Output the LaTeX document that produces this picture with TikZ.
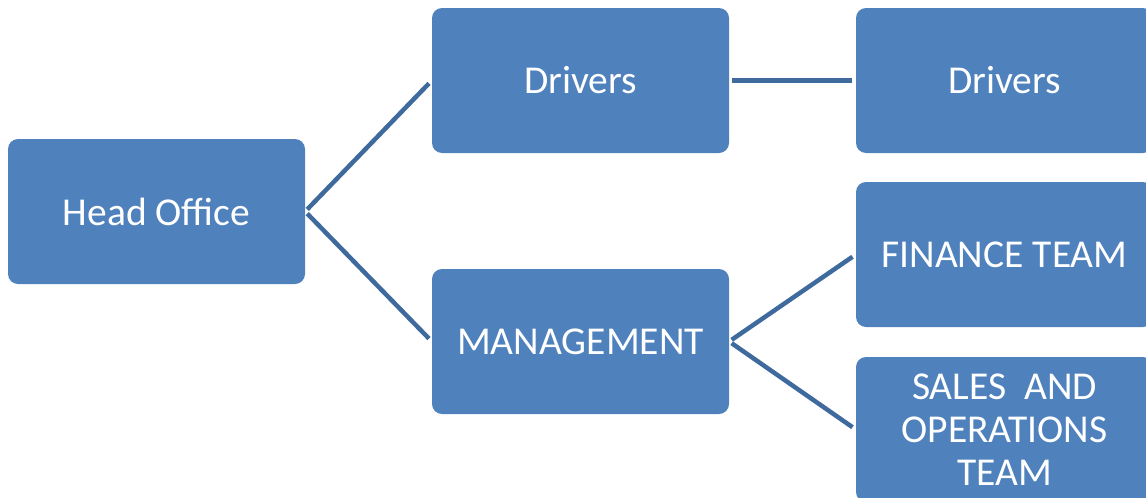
\documentclass[tikz,border=0pt]{standalone}
\usepackage{fontspec}
\setmainfont{Carlito}
\definecolor{boxblue}{HTML}{4F81BD}
\definecolor{lineblue}{HTML}{3F6A9E}
\begin{document}
\begin{tikzpicture}[x=1pt,y=-1pt,
  orgbox/.style={draw=none,fill=boxblue,rounded corners=10pt,minimum width=297pt,minimum height=145pt,inner sep=0pt,text=white,align=center,font=\fontsize{39.5}{43}\selectfont},
  conn/.style={draw=lineblue,line width=4.5pt,shorten <=3pt,shorten >=4pt}]
\useasboundingbox (0,0) rectangle (1146,498);
\clip (0,0) rectangle (1146,498);
\node[orgbox] (ho) at (156.5,211.5) {Head Office};
\node[orgbox] (drv) at (580.5,80.5) {Drivers};
\node[orgbox] (mgt) at (580.5,341.5) {MANAGEMENT};
\node[orgbox] (drv2) at (1004.5,80.5) {Drivers};
\node[orgbox] (fin) at (1004.5,254.5) {FINANCE TEAM};
\node[orgbox] (sales) at (1004.5,429.5) {SALES\ \ AND\\OPERATIONS\\TEAM};
\draw[conn] (ho.east) -- (drv.west);
\draw[conn] (ho.east) -- (mgt.west);
\draw[conn] (drv.east) -- (drv2.west);
\draw[conn] (mgt.east) -- (fin.west);
\draw[conn] (mgt.east) -- (sales.west);
\end{tikzpicture}
\end{document}
